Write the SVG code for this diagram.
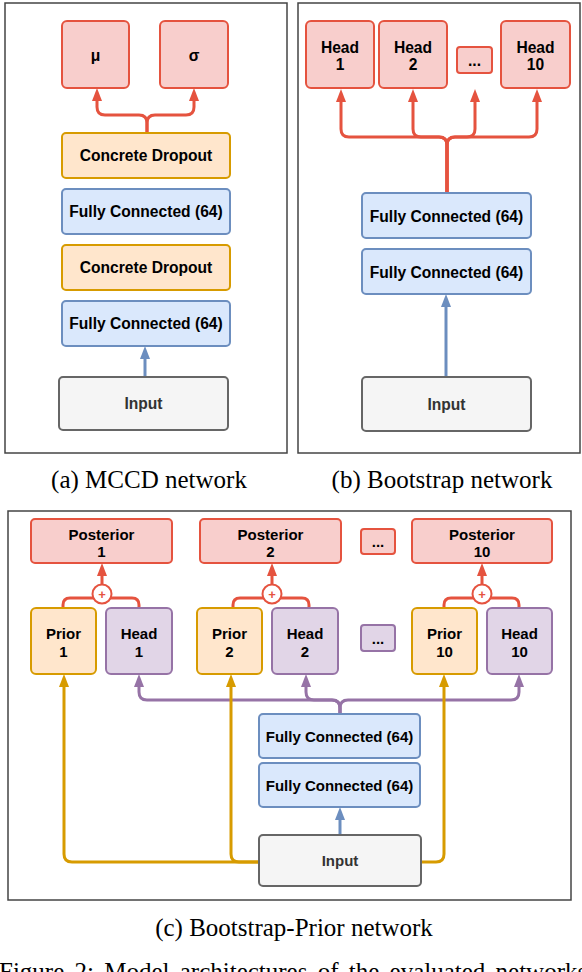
<svg xmlns="http://www.w3.org/2000/svg" width="582" height="972" viewBox="0 0 582 972">
<style>
.panel{fill:#fff;stroke:#444;stroke-width:1.5}
.red{fill:#f8cecc;stroke:#e5533f;stroke-width:2}
.blue{fill:#dae8fc;stroke:#6c8ebf;stroke-width:2}
.orange{fill:#ffe6cc;stroke:#d79b00;stroke-width:2}
.purple{fill:#e1d5e7;stroke:#9673a6;stroke-width:2}
.gray{fill:#f5f5f5;stroke:#666;stroke-width:2}
text{font-family:"Liberation Sans",Arial,sans-serif;font-weight:bold;font-size:15px;fill:#000;text-anchor:middle}
.ab text{font-size:15.6px}
.in{fill:#333}
.cap{font-family:"Liberation Serif","Times New Roman",serif;font-weight:normal;font-size:25px}
.plus{fill:#e5533f;font-size:13px;font-weight:bold}
.cr{fill:none;stroke:#e5533f;stroke-width:3}
.cb{fill:none;stroke:#6c8ebf;stroke-width:3}
.cp{fill:none;stroke:#9673a6;stroke-width:3}
.co{fill:none;stroke:#d79b00;stroke-width:3}
</style>
<defs>
<marker id="ar" markerUnits="userSpaceOnUse" markerWidth="13" markerHeight="10" viewBox="0 0 13 10" refX="0" refY="5" orient="auto"><path d="M0,0L13,5L0,10z" fill="#e5533f"/></marker>
<marker id="ab" markerUnits="userSpaceOnUse" markerWidth="13" markerHeight="10" viewBox="0 0 13 10" refX="0" refY="5" orient="auto"><path d="M0,0L13,5L0,10z" fill="#6c8ebf"/></marker>
<marker id="ap" markerUnits="userSpaceOnUse" markerWidth="13" markerHeight="10" viewBox="0 0 13 10" refX="0" refY="5" orient="auto"><path d="M0,0L13,5L0,10z" fill="#9673a6"/></marker>
<marker id="ao" markerUnits="userSpaceOnUse" markerWidth="13" markerHeight="10" viewBox="0 0 13 10" refX="0" refY="5" orient="auto"><path d="M0,0L13,5L0,10z" fill="#d79b00"/></marker>
</defs>

<!-- panel frames -->
<rect class="panel" x="5" y="3" width="282" height="450"/>
<rect class="panel" x="298" y="3" width="282" height="450"/>
<rect class="panel" x="8" y="511" width="563" height="389"/>

<!-- connectors -->
<g id="connectors">
  <!-- (a) -->
  <path class="cr" d="M147,133V123Q147,115 139,115H105Q97,115 97,107V101" marker-end="url(#ar)"/>
  <path class="cr" d="M147,133V123Q147,115 155,115H186Q194,115 194,107V101" marker-end="url(#ar)"/>
  <path class="cb" d="M145,377V359" marker-end="url(#ab)"/>
  <!-- (b) -->
  <path class="cr" d="M447,193V145Q447,137 439,137H349Q341,137 341,129V102" marker-end="url(#ar)"/>
  <path class="cr" d="M447,193V145Q447,137 439,137H421Q413,137 413,129V102" marker-end="url(#ar)"/>
  <path class="cr" d="M447,193V145Q447,137 455,137H467Q475,137 475,129V102" marker-end="url(#ar)"/>
  <path class="cr" d="M447,193V145Q447,137 455,137H529Q537,137 537,129V102" marker-end="url(#ar)"/>
  <path class="cb" d="M446,377V307" marker-end="url(#ab)"/>
  <!-- (c) red pairs -->
  <path class="cr" d="M63,608V605Q63,598 70,598H132Q139,598 139,605V608"/>
  <path class="cr" d="M102,584V576" marker-end="url(#ar)"/>
  <path class="cr" d="M233,608V605Q233,598 240,598H302Q309,598 309,605V608"/>
  <path class="cr" d="M272,584V576" marker-end="url(#ar)"/>
  <path class="cr" d="M444,608V605Q444,598 451,598H512Q519,598 519,605V608"/>
  <path class="cr" d="M482,584V576" marker-end="url(#ar)"/>
  <!-- (c) purple -->
  <path class="cp" d="M340,714V708Q340,700 332,700H147Q139,700 139,692V687" marker-end="url(#ap)"/>
  <path class="cp" d="M340,714V708Q340,700 332,700H314Q306,700 306,692V687" marker-end="url(#ap)"/>
  <path class="cp" d="M340,714V708Q340,700 348,700H511Q519,700 519,692V687" marker-end="url(#ap)"/>
  <!-- (c) orange -->
  <path class="co" d="M259,862H72Q64,862 64,854V687" marker-end="url(#ao)"/>
  <path class="co" d="M259,862H239Q231,862 231,854V687" marker-end="url(#ao)"/>
  <path class="co" d="M421,862H436Q444,862 444,854V687" marker-end="url(#ao)"/>
  <!-- (c) blue -->
  <path class="cb" d="M340,835V820" marker-end="url(#ab)"/>
</g>

<!-- panel (a) -->
<g class="ab">
<g id="a-mu"><rect class="red" x="62" y="21" width="67" height="67" rx="5"/><text x="95.5" y="61">μ</text></g>
<g id="a-sigma"><rect class="red" x="160" y="21" width="68" height="67" rx="5"/><text x="194" y="61">σ</text></g>
<g id="a-cd1"><rect class="orange" x="62" y="133" width="168" height="45" rx="4"/><text x="146" y="161">Concrete Dropout</text></g>
<g id="a-fc1"><rect class="blue" x="62" y="189" width="168" height="45" rx="4"/><text x="146" y="217">Fully Connected (64)</text></g>
<g id="a-cd2"><rect class="orange" x="62" y="245" width="168" height="45" rx="4"/><text x="146" y="273">Concrete Dropout</text></g>
<g id="a-fc2"><rect class="blue" x="62" y="301" width="168" height="45" rx="4"/><text x="146" y="329">Fully Connected (64)</text></g>
<g id="a-input"><rect class="gray" x="59" y="377" width="169" height="53" rx="4"/><text class="in" x="143.5" y="409">Input</text></g>

<!-- panel (b) -->
<g id="b-head1"><rect class="red" x="306" y="21" width="68" height="67" rx="5"/><text x="340" y="53">Head</text><text x="340" y="70">1</text></g>
<g id="b-head2"><rect class="red" x="379" y="21" width="68" height="67" rx="5"/><text x="413" y="53">Head</text><text x="413" y="70">2</text></g>
<g id="b-dots"><rect class="red" x="457" y="47" width="35" height="26" rx="3"/><text x="474.5" y="66">...</text></g>
<g id="b-head10"><rect class="red" x="501" y="21" width="69" height="67" rx="5"/><text x="535.5" y="53">Head</text><text x="535.5" y="70">10</text></g>
<g id="b-fc1"><rect class="blue" x="362" y="193" width="169" height="45" rx="4"/><text x="446.5" y="222">Fully Connected (64)</text></g>
<g id="b-fc2"><rect class="blue" x="362" y="249" width="169" height="45" rx="4"/><text x="446.5" y="278">Fully Connected (64)</text></g>
<g id="b-input"><rect class="gray" x="362" y="377" width="169" height="54" rx="4"/><text class="in" x="446.5" y="410">Input</text></g>
</g>

<!-- panel (c) -->
<g id="c-post1"><rect class="red" x="31" y="519" width="141" height="44" rx="4"/><text x="101.5" y="540">Posterior</text><text x="101.5" y="557">1</text></g>
<g id="c-post2"><rect class="red" x="200" y="519" width="141" height="44" rx="4"/><text x="270.5" y="540">Posterior</text><text x="270.5" y="557">2</text></g>
<g id="c-postdots"><rect class="red" x="361" y="529" width="34" height="25" rx="3"/><text x="378" y="547">...</text></g>
<g id="c-post10"><rect class="red" x="412" y="519" width="140" height="44" rx="4"/><text x="482" y="540">Posterior</text><text x="482" y="557">10</text></g>

<g id="c-plus1"><circle cx="102" cy="594" r="9.5" fill="#fff" stroke="#e5533f" stroke-width="2"/><text class="plus" x="102" y="599">+</text></g>
<g id="c-plus2"><circle cx="272" cy="594" r="9.5" fill="#fff" stroke="#e5533f" stroke-width="2"/><text class="plus" x="272" y="599">+</text></g>
<g id="c-plus10"><circle cx="482" cy="594" r="9.5" fill="#fff" stroke="#e5533f" stroke-width="2"/><text class="plus" x="482" y="599">+</text></g>

<g id="c-prior1"><rect class="orange" x="31" y="608" width="65" height="66" rx="5"/><text x="63.5" y="639">Prior</text><text x="63.5" y="657">1</text></g>
<g id="c-head1"><rect class="purple" x="106" y="608" width="66" height="66" rx="5"/><text x="139" y="639">Head</text><text x="139" y="657">1</text></g>
<g id="c-prior2"><rect class="orange" x="197" y="608" width="65" height="66" rx="5"/><text x="229.5" y="639">Prior</text><text x="229.5" y="657">2</text></g>
<g id="c-head2"><rect class="purple" x="272" y="608" width="66" height="66" rx="5"/><text x="305" y="639">Head</text><text x="305" y="657">2</text></g>
<g id="c-dots"><rect class="purple" x="361" y="625" width="34" height="26" rx="3"/><text x="378" y="644">...</text></g>
<g id="c-prior10"><rect class="orange" x="412" y="608" width="65" height="66" rx="5"/><text x="444.5" y="639">Prior</text><text x="444.5" y="657">10</text></g>
<g id="c-head10"><rect class="purple" x="487" y="608" width="65" height="66" rx="5"/><text x="519.5" y="639">Head</text><text x="519.5" y="657">10</text></g>

<g id="c-fc1"><rect class="blue" x="259" y="714" width="161" height="44" rx="4"/><text x="339.5" y="742">Fully Connected (64)</text></g>
<g id="c-fc2"><rect class="blue" x="259" y="763" width="161" height="44" rx="4"/><text x="339.5" y="791">Fully Connected (64)</text></g>
<g id="c-input"><rect class="gray" x="259" y="835" width="162" height="51" rx="4"/><text class="in" x="340" y="866">Input</text></g>

<!-- captions -->
<text class="cap" x="149" y="488">(a) MCCD network</text>
<text class="cap" x="442" y="488">(b) Bootstrap network</text>
<text class="cap" x="294" y="936">(c) Bootstrap-Prior network</text>
<text class="cap" x="-1" y="980" style="text-anchor:start;word-spacing:4px">Figure 2: Model architectures of the evaluated networks</text>
</svg>
